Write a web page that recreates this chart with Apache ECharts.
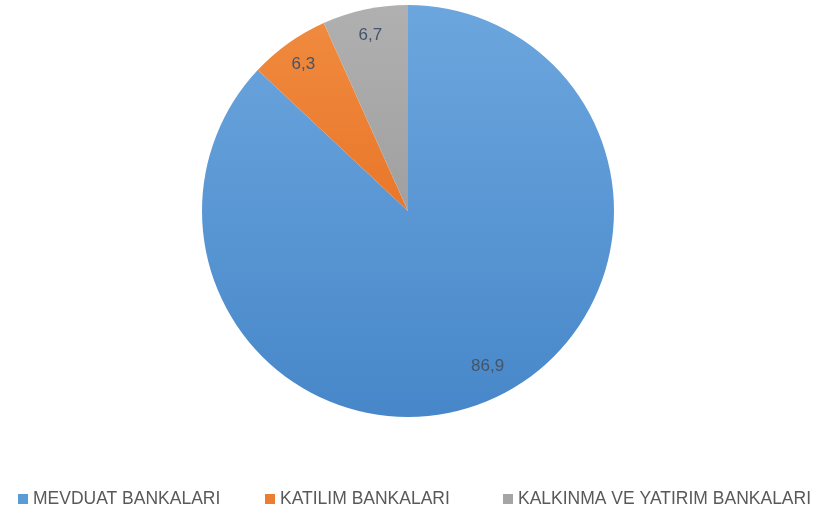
<!DOCTYPE html>
<html><head><meta charset="utf-8">
<script src="https://cdn.jsdelivr.net/npm/echarts@6/dist/echarts.min.js"></script>
<style>html,body{margin:0;padding:0;background:#fff}#c{width:816px;height:508px}</style>
</head><body><div id="c"></div>
<script>
const categories = ['MEVDUAT BANKALARI', 'KATILIM BANKALARI', 'KALKINMA VE YATIRIM BANKALARI'];
const values = [86.9, 6.3, 6.7];
const colors = [
  new echarts.graphic.LinearGradient(0, 0, 0, 1, [{offset: 0, color: '#6ca6de'}, {offset: 1, color: '#4787c9'}]),
  new echarts.graphic.LinearGradient(0, 0, 0, 1, [{offset: 0, color: '#f08a3e'}, {offset: 1, color: '#e9772a'}]),
  new echarts.graphic.LinearGradient(0, 0, 0, 1, [{offset: 0, color: '#b0b0b0'}, {offset: 1, color: '#a0a0a0'}])
];
const legendColors = ['#5b9bd5', '#ed7d31', '#a5a5a5'];
const legendLeft = [13, 260, 498];
const R = 206;
const chart = echarts.init(document.getElementById('c'), null, {renderer: 'canvas'});
const data = categories.map((n, i) => ({name: n, value: values[i], itemStyle: {color: colors[i]}}));
const fmt = p => String(p.value).replace('.', ',');
chart.setOption({
  animation: false,
  legend: categories.map((n, i) => ({
    data: [{name: n, itemStyle: {color: legendColors[i]}}],
    left: legendLeft[i], top: 485,
    icon: 'rect', itemWidth: 10, itemHeight: 10, itemGap: 6,
    textStyle: {fontFamily: 'Liberation Sans', fontSize: 17.5, color: '#595959'},
    selectedMode: false
  })),
  series: [
    {
      type: 'pie', center: [408, 211], radius: [0, R],
      startAngle: 90, clockwise: true, silent: true,
      label: {show: false}, labelLine: {show: false},
      itemStyle: {borderWidth: 0},
      data: data
    },
    {
      type: 'pie', center: [408, 211], radius: [0, R * 1.72],
      startAngle: 90, clockwise: true, silent: true, legendHoverLink: false,
      itemStyle: {color: 'rgba(0,0,0,0)', borderWidth: 0},
      label: {show: true, position: 'inside', formatter: fmt, fontFamily: 'Liberation Sans', fontSize: 17, color: '#44546a'},
      labelLine: {show: false},
      data: categories.map((n, i) => ({name: n + ' ', value: values[i],
        label: i === 0 ? {offset: [8, -10]} : {}}))
    }
  ]
});
</script></body></html>
